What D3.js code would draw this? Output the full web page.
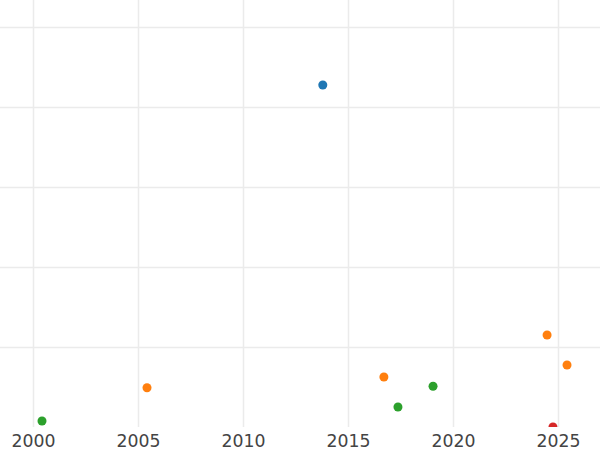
<!DOCTYPE html>
<html>
<head>
<meta charset="utf-8">
<script src="https://cdn.jsdelivr.net/npm/d3@7"></script>
<style>
  body { margin: 0; background: #fff; }
  svg { display: block; }
</style>
</head>
<body>
<div class="svg-container"></div>
<script>
// data
const years  = [2013.8, 2000.43, 2005.43, 2016.71, 2017.38, 2019.05, 2024.48, 2025.43, 2024.76];
const values = [4.275, 0.075, 0.49, 0.625, 0.25, 0.51, 1.15, 0.775, 0.0];
const groups = ["a", "b", "c", "c", "b", "b", "c", "c", "d"];
const groupColors = ["#1f77b4", "#2ca02c", "#ff7f0e", "#d62728"];
const xTicks = [2000, 2005, 2010, 2015, 2020, 2025];
const yTicks = [1, 2, 3, 4, 5];

const width = 600, height = 450;
const plotBottom = 427;

const svg = d3.select('.svg-container')
  .append('svg')
  .attr('width', width)
  .attr('height', height);

const x = d3.scaleLinear()
  .domain([1998.43, 2027.0])
  .range([0, width]);

const y = d3.scaleLinear()
  .domain([0, 5.3375])
  .range([plotBottom, 0]);

const color = d3.scaleOrdinal()
  .domain(["a", "b", "c", "d"])
  .range(groupColors);

svg.append("defs").append("clipPath")
    .attr("id", "clip")
  .append("rect")
    .attr("width", width)
    .attr("height", plotBottom);

// grid
svg.append("g")
  .selectAll("line")
  .data(xTicks)
  .enter().append("line")
    .attr("x1", d => Math.round(x(d)) + 0.5)
    .attr("x2", d => Math.round(x(d)) + 0.5)
    .attr("y1", 0)
    .attr("y2", plotBottom)
    .attr("stroke", "#ebebeb")
    .attr("stroke-width", 1.5);

svg.append("g")
  .selectAll("line")
  .data(yTicks)
  .enter().append("line")
    .attr("x1", 0)
    .attr("x2", width)
    .attr("y1", d => Math.round(y(d)) + 0.5)
    .attr("y2", d => Math.round(y(d)) + 0.5)
    .attr("stroke", "#ebebeb")
    .attr("stroke-width", 1.5);

// x axis labels
const xAxis = svg.append("g")
  .attr("transform", `translate(0,${plotBottom})`)
  .call(d3.axisBottom(x).tickValues(xTicks).tickFormat(d3.format("d")).tickSize(0).tickPadding(8));
xAxis.select(".domain").remove();
xAxis.selectAll("text")
  .attr("fill", "#444")
  .style("font-family", "DejaVu Sans, sans-serif")
  .style("font-size", "17.3px");

// points
svg.append("g")
  .attr("clip-path", "url(#clip)")
  .selectAll("circle")
  .data(years.map((yr, i) => ({yr: yr, v: values[i], g: groups[i]})))
  .enter().append("circle")
    .attr("cx", d => x(d.yr))
    .attr("cy", d => y(d.v))
    .attr("r", 4.5)
    .attr("fill", d => color(d.g));
</script>
</body>
</html>
